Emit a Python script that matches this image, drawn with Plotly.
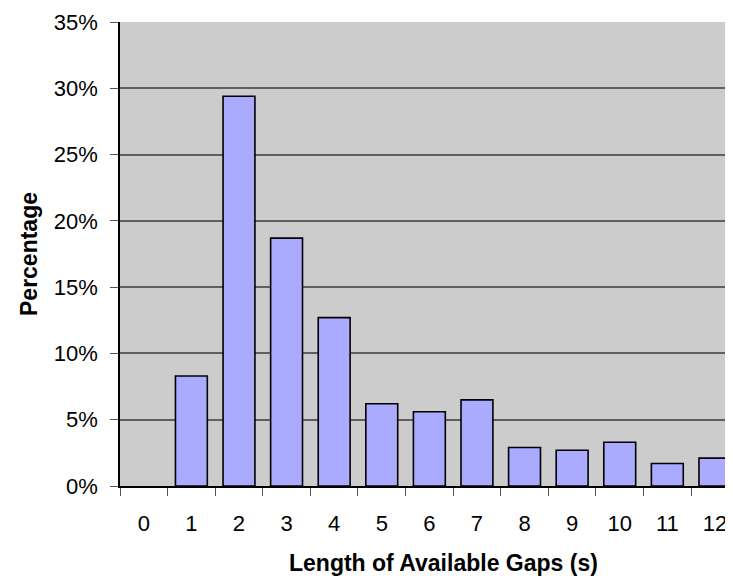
import plotly.graph_objects as go

categories = ["0", "1", "2", "3", "4", "5", "6", "7", "8", "9", "10", "11", "12"]
percentages = [0.0, 8.3, 29.4, 18.7, 12.7, 6.2, 5.6, 6.5, 2.9, 2.7, 3.3, 1.7, 2.1]
y_ticks = [0, 5, 10, 15, 20, 25, 30, 35]
y_tick_labels = ["0%", "5%", "10%", "15%", "20%", "25%", "30%", "35%"]
x_title = "Length of Available Gaps (s)"
y_title = "Percentage"

FONT = "Liberation Sans, Arial, Helvetica, sans-serif"

# page body has an 8px default margin; compensate so the plot area lands where the reference has it
fig = go.Figure(
    go.Bar(
        x=categories,
        y=percentages,
        marker=dict(
            color="#AAAAFF",
            line=dict(color="black", width=[0 if v == 0 else 1.6 for v in percentages]),
        ),
        width=0.67,
    )
)

fig.update_layout(
    width=725,
    height=573,
    margin=dict(l=112, r=0, t=14, b=95),
    paper_bgcolor="white",
    plot_bgcolor="#CCCCCC",
    showlegend=False,
    font=dict(family=FONT, color="black"),
)

fig.add_annotation(
    text="<b>" + x_title + "</b>",
    xref="paper", yref="paper",
    x=0.527, y=-0.166,
    xanchor="center", yanchor="middle",
    showarrow=False,
    font=dict(size=23, family=FONT, color="black"),
)

fig.update_xaxes(
    type="category",
    range=[-0.5, 12.38],
    tickson="boundaries",
    ticks="outside",
    ticklen=8,
    tickwidth=1.2,
    tickcolor="#555555",
    showgrid=False,
    showline=True,
    linecolor="black",
    linewidth=1.5,
    tickfont=dict(size=22, family=FONT),
    ticklabelstandoff=17,
    fixedrange=True,
)

fig.update_yaxes(
    range=[0, 35],
    tickvals=y_ticks,
    ticktext=y_tick_labels,
    ticks="outside",
    ticklen=8,
    tickwidth=1.2,
    tickcolor="#555555",
    showgrid=True,
    gridcolor="#5F5F5F",
    gridwidth=1.5,
    showline=True,
    linecolor="black",
    linewidth=1.5,
    zeroline=False,
    tickfont=dict(size=22, family=FONT),
    ticklabelstandoff=8,
    title=dict(text="<b>" + y_title + "</b>", font=dict(size=23, family=FONT), standoff=10),
    fixedrange=True,
)

fig.write_html("out.html")
